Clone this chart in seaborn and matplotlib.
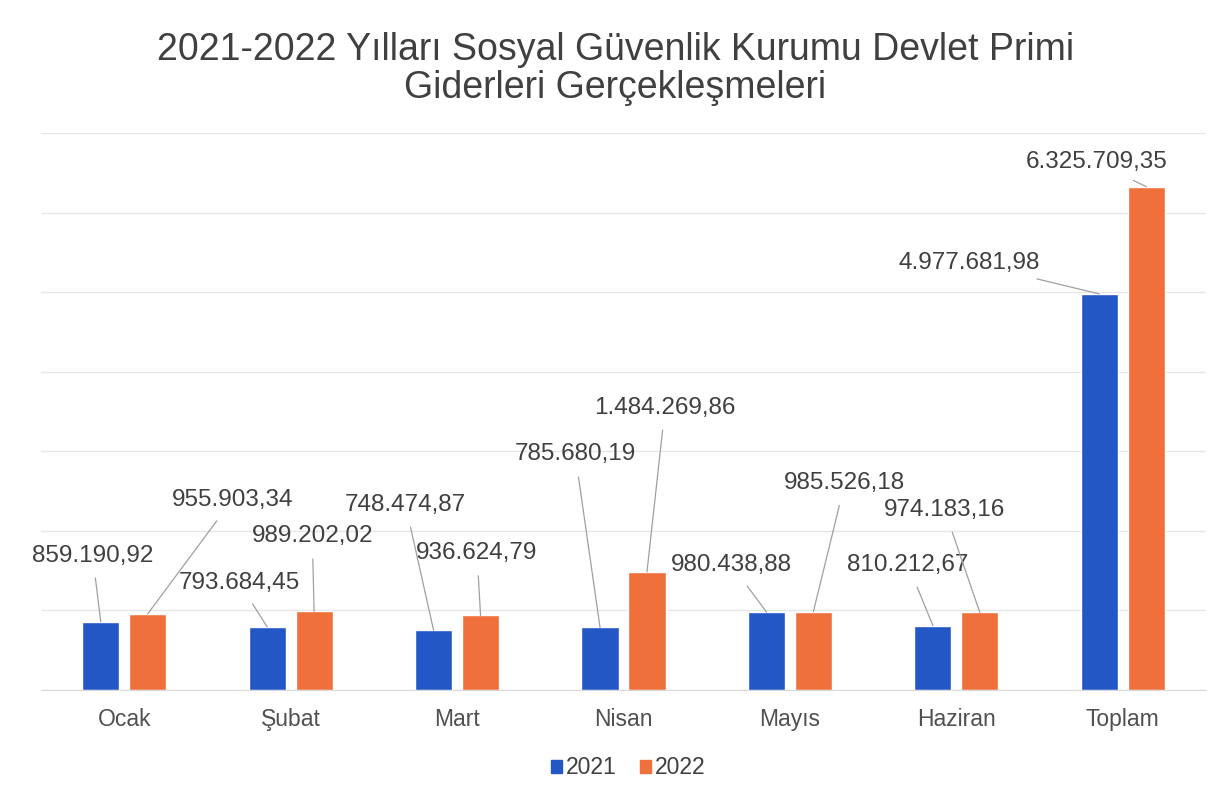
import matplotlib
matplotlib.use("Agg")
import matplotlib.pyplot as plt
import pandas as pd
import seaborn as sns

months = ["Ocak", "Şubat", "Mart", "Nisan", "Mayıs", "Haziran", "Toplam"]
years = ["2021", "2022"]
values_2021 = [859190.92, 793684.45, 748474.87, 785680.19, 980438.88, 810212.67, 4977681.98]
values_2022 = [955903.34, 989202.02, 936624.79, 1484269.86, 985526.18, 974183.16, 6325709.35]

# label text positions (x in category units, y in millions)
label_pos_2021 = [(-0.19, 1.69), (0.69, 1.35), (1.69, 2.33), (2.71, 2.96),
                  (3.65, 1.57), (4.71, 1.57), (5.08, 5.37)]
label_pos_2022 = [(0.65, 2.39), (1.13, 1.93), (2.12, 1.72), (3.25, 3.55),
                  (4.33, 2.60), (4.93, 2.26), (5.84, 6.63)]

BLUE = "#2257C5"
ORANGE = "#F0703C"
TEXT = "#404040"


def tr_format(v):
    s = f"{v:,.2f}"
    return s.replace(",", "X").replace(".", ",").replace("X", ".")


df = pd.DataFrame({
    "Ay": months * 2,
    "Yıl": [years[0]] * len(months) + [years[1]] * len(months),
    "Değer": [v / 1e6 for v in values_2021 + values_2022],
})

sns.set_style("white")
plt.rcParams["font.family"] = ["Liberation Sans", "DejaVu Sans"]

fig = plt.figure(figsize=(12.31, 8.08), dpi=100)
ax = fig.add_axes([41 / 1231, 118 / 808, 1165 / 1231, 557 / 808])

sns.barplot(data=df, x="Ay", y="Değer", hue="Yıl", palette=[BLUE, ORANGE],
            width=0.564, gap=0.21, saturation=1, ax=ax, legend=False)

ax.set_xlim(-0.5, 6.5)
ax.set_ylim(0, 7)
ax.set_yticks(range(0, 8))
ax.set_yticklabels([])
ax.tick_params(axis="y", length=0)
ax.tick_params(axis="x", length=0, labelsize=16.5, colors="#505050", pad=13)
ax.grid(axis="y", color="#e6e6e6", lw=1)
ax.set_axisbelow(True)
ax.set_xlabel("")
ax.set_ylabel("")
for side in ["top", "left", "right"]:
    ax.spines[side].set_visible(False)
ax.spines["bottom"].set_color("#d9d9d9")

offset = 0.141
for i in range(len(months)):
    for vals, pos, dx in [(values_2021, label_pos_2021, -offset),
                          (values_2022, label_pos_2022, offset)]:
        ax.annotate(tr_format(vals[i]), xy=(i + dx, vals[i] / 1e6), xytext=pos[i],
                    ha="center", va="center", fontsize=17.5, color=TEXT,
                    arrowprops=dict(arrowstyle="-", color="#a0a0a0", lw=0.9,
                                    shrinkA=6, shrinkB=0))

handles = [plt.Rectangle((0, 0), 1, 1, color=BLUE),
           plt.Rectangle((0, 0), 1, 1, color=ORANGE)]
fig.legend(handles, years, loc="center", bbox_to_anchor=(628 / 1231, 1 - 768 / 808),
           ncol=2, frameon=False, fontsize=16.5, labelcolor=TEXT,
           handlelength=0.5, handleheight=0.5, handletextpad=0.15, columnspacing=1.0)

fig.text(0.5, 1 - 69 / 808,
         "2021-2022 Yılları Sosyal Güvenlik Kurumu Devlet Primi\nGiderleri Gerçekleşmeleri",
         ha="center", va="center", fontsize=27, color=TEXT, linespacing=1.08)

fig.savefig("out.png", dpi=100, facecolor="white")
